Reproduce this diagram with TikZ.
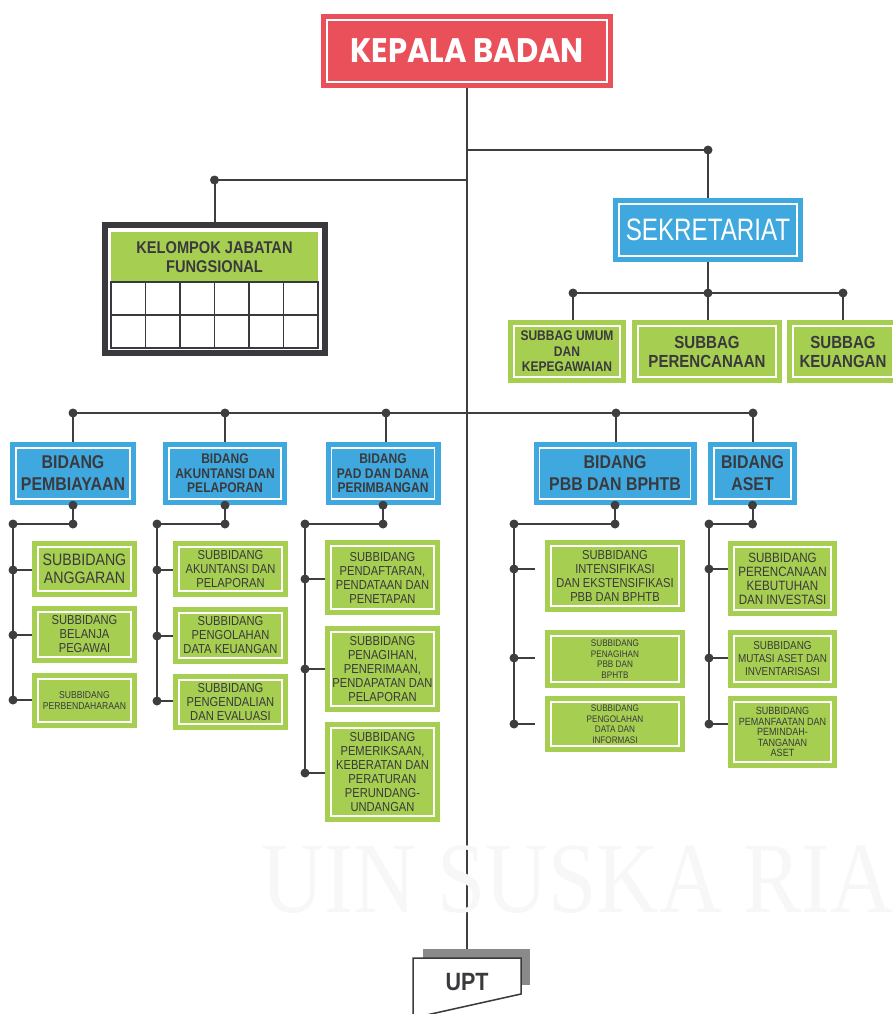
\documentclass[tikz,border=0pt]{standalone}
\usepackage{fontspec}
\setmainfont[FakeStretch=0.86]{Liberation Sans}
\newfontfamily\headfont[FakeStretch=0.9]{Poppins}
\newfontfamily\secfont[FakeStretch=0.78]{Liberation Sans}
\newfontfamily\markfont[FakeStretch=0.86]{Liberation Serif}
\usetikzlibrary{positioning,backgrounds,calc}
\definecolor{kb-red}{RGB}{233,80,90}
\definecolor{kb-blue}{RGB}{63,169,223}
\definecolor{kb-green}{RGB}{166,206,80}
\definecolor{kb-text}{RGB}{58,58,62}
\definecolor{kb-wire}{RGB}{62,62,62}
\definecolor{kb-shadow}{RGB}{138,138,138}
\tikzstyle{framed}=[path picture={\draw[white,line width=1.8pt] ([shift={(6pt,-6pt)}]path picture bounding box.north west) rectangle ([shift={(-6pt,6pt)}]path picture bounding box.south east);}]
\tikzstyle{box}=[anchor=center,inner sep=0pt,align=center,text=kb-text,framed]
\tikzstyle{head}=[box,fill=kb-red,text=white,font=\headfont\bfseries\fontsize{34}{36}\selectfont]
\tikzstyle{office}=[box,fill=kb-blue,text=white,font=\secfont\fontsize{31}{32}\selectfont]
\tikzstyle{unit}=[box,fill=kb-blue,font=\bfseries\fontsize{18.5}{22}\selectfont]
\tikzstyle{unit-small}=[box,fill=kb-blue,font=\bfseries\fontsize{14}{14.5}\selectfont]
\tikzstyle{subbag}=[box,fill=kb-green,font=\bfseries\fontsize{17.5}{19}\selectfont]
\tikzstyle{sub}=[box,fill=kb-green,font=\fontsize{13}{14}\selectfont]
\tikzstyle{wire}=[draw=kb-wire,line width=2pt]
\tikzstyle{dot}=[circle,fill=kb-wire,inner sep=0pt,minimum size=9pt]
\tikzstyle{cell}=[draw=kb-text,line width=1.5pt]

\begin{document}
\begin{tikzpicture}[x=1pt,y=-1pt]
  \useasboundingbox (0,0) rectangle (893,1014);

  \node[anchor=base west,text=gray!6,font=\markfont\fontsize{101}{101}\selectfont] at (258,912) (mark) {UIN SUSKA RIA};

  \node[head,minimum width=292pt,minimum height=74pt] at (467,51) (kepala) {KEPALA BADAN};
  \node[office,minimum width=190pt,minimum height=64pt] at (708,230) (sek) {SEKRETARIAT};

  % kelompok jabatan fungsional
  \node[draw=kb-text,line width=6pt,fill=white,minimum width=220pt,minimum height=128pt] at (214.5,289) (kjf) {};
  \node[fill=kb-green,minimum width=207pt,minimum height=50pt,align=center,text=kb-text,font=\bfseries\fontsize{17}{19}\selectfont] at (214.5,257) (kjfhead) {KELOMPOK JABATAN\\FUNGSIONAL};
  \draw[cell] (111,282) rectangle (318,348);
  \draw[cell] (111,315) -- (318,315);
  \draw[cell] (145.5,282) -- (145.5,348);
  \draw[cell] (180,282) -- (180,348);
  \draw[cell] (214.5,282) -- (214.5,348);
  \draw[cell] (249,282) -- (249,348);
  \draw[cell] (283.5,282) -- (283.5,348);

  % subbag
  \node[subbag,font=\bfseries\fontsize{14}{15.5}\selectfont,minimum width=118pt,minimum height=63pt] at (567,351.5) (sbumum) {SUBBAG UMUM\\DAN\\KEPEGAWAIAN};
  \node[subbag,minimum width=150pt,minimum height=63pt] at (707,351.5) (sbrenc) {SUBBAG\\PERENCANAAN};
  \node[subbag,minimum width=112pt,minimum height=63pt] at (843,351.5) (sbkeu) {SUBBAG\\KEUANGAN};

  % bidang
  \node[unit,minimum width=126pt,minimum height=63pt] at (73,473.5) (bpemb) {BIDANG\\PEMBIAYAAN};
  \node[unit-small,minimum width=124pt,minimum height=63pt] at (225,473.5) (bakun) {BIDANG\\AKUNTANSI DAN\\PELAPORAN};
  \node[unit-small,minimum width=115pt,minimum height=63pt] at (383,473.5) (bpad) {BIDANG\\PAD DAN DANA\\PERIMBANGAN};
  \node[unit,minimum width=163pt,minimum height=63pt] at (615,473.5) (bpbb) {BIDANG\\PBB DAN BPHTB};
  \node[unit,minimum width=89pt,minimum height=63pt] at (752.5,473.5) (baset) {BIDANG\\ASET};

  % subbidang
  \node[sub,font=\fontsize{16.5}{17.5}\selectfont,minimum width=105pt,minimum height=56pt] at (84.5,569) (sanggar) {SUBBIDANG\\ANGGARAN};
  \node[sub,minimum width=105pt,minimum height=57pt] at (84.5,634.5) (sbelanja) {SUBBIDANG\\BELANJA\\PEGAWAI};
  \node[sub,font=\fontsize{10}{11}\selectfont,minimum width=105pt,minimum height=55pt] at (84.5,700.5) (sbendahara) {SUBBIDANG\\PERBENDAHARAAN};

  \node[sub,minimum width=115pt,minimum height=56pt] at (230.5,569) (sakun) {SUBBIDANG\\AKUNTANSI DAN\\PELAPORAN};
  \node[sub,minimum width=115pt,minimum height=57pt] at (230.5,635.5) (solah) {SUBBIDANG\\PENGOLAHAN\\DATA KEUANGAN};
  \node[sub,minimum width=115pt,minimum height=56pt] at (230.5,702) (sdali) {SUBBIDANG\\PENGENDALIAN\\DAN EVALUASI};

  \node[sub,minimum width=115pt,minimum height=75pt] at (382.5,577.5) (sdaftar) {SUBBIDANG\\PENDAFTARAN,\\PENDATAAN DAN\\PENETAPAN};
  \node[sub,minimum width=115pt,minimum height=86pt] at (382.5,669) (stagih) {SUBBIDANG\\PENAGIHAN,\\PENERIMAAN,\\PENDAPATAN DAN\\PELAPORAN};
  \node[sub,minimum width=115pt,minimum height=100pt] at (382.5,772) (speriksa) {SUBBIDANG\\PEMERIKSAAN,\\KEBERATAN DAN\\PERATURAN\\PERUNDANG-\\UNDANGAN};

  \node[sub,minimum width=140pt,minimum height=72pt] at (615,576) (sintens) {SUBBIDANG\\INTENSIFIKASI\\DAN EKSTENSIFIKASI\\PBB DAN BPHTB};
  \node[sub,font=\fontsize{9.5}{10.5}\selectfont,minimum width=140pt,minimum height=58pt] at (615,659) (spbbtagih) {SUBBIDANG\\PENAGIHAN\\PBB DAN\\BPHTB};
  \node[sub,font=\fontsize{9.5}{10.5}\selectfont,minimum width=140pt,minimum height=56pt] at (615,724) (sdata) {SUBBIDANG\\PENGOLAHAN\\DATA DAN\\INFORMASI};

  \node[sub,font=\fontsize{13.5}{14}\selectfont,minimum width=109pt,minimum height=75pt] at (782.5,578.5) (skebut) {SUBBIDANG\\PERENCANAAN\\KEBUTUHAN\\DAN INVESTASI};
  \node[sub,font=\fontsize{11.5}{13}\selectfont,minimum width=109pt,minimum height=58pt] at (782.5,659) (smutasi) {SUBBIDANG\\MUTASI ASET DAN\\INVENTARISASI};
  \node[sub,font=\fontsize{10.5}{10.5}\selectfont,minimum width=109pt,minimum height=72pt] at (782.5,732) (smanfaat) {SUBBIDANG\\PEMANFAATAN DAN\\PEMINDAH-\\TANGANAN\\ASET};

  % dots
  \node[dot] at (708,150) (dsek) {};
  \node[dot] at (214.5,180) (dkjf) {};
  \node[dot] at (573,293) (dsb1) {};
  \node[dot] at (708,293) (dsb2) {};
  \node[dot] at (843,293) (dsb3) {};

  \node[dot] at (73,413) (db1) {};
  \node[dot] at (225,413) (db2) {};
  \node[dot] at (386,413) (db3) {};
  \node[dot] at (616,413) (db4) {};
  \node[dot] at (753,413) (db5) {};

  \node[dot] at (bpemb.south) (dp1) {};
  \node[dot] at (73,524) (dq1) {};
  \node[dot] at (13,524) (dr1) {};
  \node[dot] at (13,570) (s11) {};
  \node[dot] at (13,635) (s12) {};
  \node[dot] at (13,700) (s13) {};

  \node[dot] at (bakun.south) (dp2) {};
  \node[dot] at (225,524) (dq2) {};
  \node[dot] at (157,524) (dr2) {};
  \node[dot] at (157,570) (s21) {};
  \node[dot] at (157,636) (s22) {};
  \node[dot] at (157,701) (s23) {};

  \node[dot] at (bpad.south) (dp3) {};
  \node[dot] at (383,524) (dq3) {};
  \node[dot] at (305,524) (dr3) {};
  \node[dot] at (305,579) (s31) {};
  \node[dot] at (305,669) (s32) {};
  \node[dot] at (305,773) (s33) {};

  \node[dot] at (bpbb.south) (dp4) {};
  \node[dot] at (615,524) (dq4) {};
  \node[dot] at (514,524) (dr4) {};
  \node[dot] at (514,569) (s41) {};
  \node[dot] at (514,658) (s42) {};
  \node[dot] at (514,724) (s43) {};

  \node[dot] at (baset.south) (dp5) {};
  \node[dot] at (752.5,524) (dq5) {};
  \node[dot] at (709,524) (dr5) {};
  \node[dot] at (709,569) (s51) {};
  \node[dot] at (709,658) (s52) {};
  \node[dot] at (709,724) (s53) {};

  \coordinate (upttop) at (467,958);

  \begin{scope}[on background layer]
    \draw[wire] (kepala.south) -- (upttop);
    \draw[wire] (kepala.south|-dsek) -- (dsek.center) -- (sek.north);
    \draw[wire] (kepala.south|-dkjf) -- (dkjf.center) -- (kjf.north);

    \draw[wire] (sek.south) -- (dsb2.center);
    \draw[wire] (dsb1.center) -- (dsb3.center);
    \draw[wire] (dsb1.center) -- (dsb1.center|-sbumum.north);
    \draw[wire] (dsb2.center) -- (dsb2.center|-sbrenc.north);
    \draw[wire] (dsb3.center) -- (dsb3.center|-sbkeu.north);

    \draw[wire] (db1.center) -- (db5.center);
    \draw[wire] (db1.center) -- (db1.center|-bpemb.north);
    \draw[wire] (db2.center) -- (db2.center|-bakun.north);
    \draw[wire] (db3.center) -- (db3.center|-bpad.north);
    \draw[wire] (db4.center) -- (db4.center|-bpbb.north);
    \draw[wire] (db5.center) -- (db5.center|-baset.north);

    \draw[wire] (dp1.center) -- (dq1.center) -- (dr1.center) -- (s13.center);
    \draw[wire] (s11.center) -- (s11.center-|sanggar.west);
    \draw[wire] (s12.center) -- (s12.center-|sbelanja.west);
    \draw[wire] (s13.center) -- (s13.center-|sbendahara.west);

    \draw[wire] (dp2.center) -- (dq2.center) -- (dr2.center) -- (s23.center);
    \draw[wire] (s21.center) -- (s21.center-|sakun.west);
    \draw[wire] (s22.center) -- (s22.center-|solah.west);
    \draw[wire] (s23.center) -- (s23.center-|sdali.west);

    \draw[wire] (dp3.center) -- (dq3.center) -- (dr3.center) -- (s33.center);
    \draw[wire] (s31.center) -- (s31.center-|sdaftar.west);
    \draw[wire] (s32.center) -- (s32.center-|stagih.west);
    \draw[wire] (s33.center) -- (s33.center-|speriksa.west);

    \draw[wire] (dp4.center) -- (dq4.center) -- (dr4.center) -- (s43.center);
    \draw[wire] (s41.center) -- ([xshift=-10pt]s41.center-|sintens.west);
    \draw[wire] (s42.center) -- ([xshift=-10pt]s42.center-|spbbtagih.west);
    \draw[wire] (s43.center) -- ([xshift=-10pt]s43.center-|sdata.west);

    \draw[wire] (dp5.center) -- (dq5.center) -- (dr5.center) -- (s53.center);
    \draw[wire] (s51.center) -- (s51.center-|skebut.west);
    \draw[wire] (s52.center) -- (s52.center-|smutasi.west);
    \draw[wire] (s53.center) -- (s53.center-|smanfaat.west);
  \end{scope}

  % upt
  \fill[kb-shadow] (423,949) rectangle (530,985);
  \filldraw[fill=white,draw=kb-text,line width=1.5pt] (413,958) -- (521,958) -- (521,994) -- (413,1018) -- cycle;
  \node[font=\bfseries\fontsize{25}{25}\selectfont,text=kb-text] at (467,982) (upt) {UPT};

\end{tikzpicture}
\end{document}
